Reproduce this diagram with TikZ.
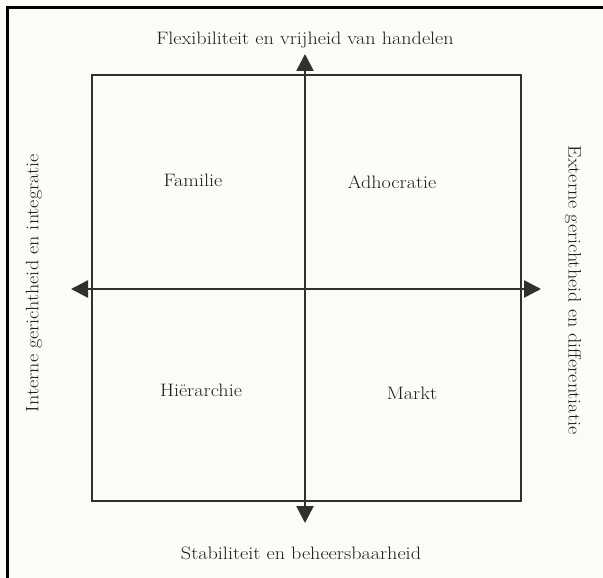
\documentclass[tikz,border=0pt]{standalone}
\usetikzlibrary{arrows.meta}
\definecolor{ink}{HTML}{303030}
\definecolor{txt}{HTML}{1E1E1E}
\definecolor{paper}{HTML}{FCFBF7}
\tikzset{
  lbl/.style={text=txt, inner sep=0pt, font=\fontsize{18}{21}\selectfont},
  axis/.style={draw=ink, line width=2.6pt, -{Triangle[length=17pt,width=17pt]}, shorten <=0pt},
  frame/.style={draw=ink, line width=1.8pt},
  outer/.style={draw=black, line width=3pt}
}
\newcommand{\widetxt}[1]{\scalebox{1.12}[1]{#1}}
\begin{document}
\begin{tikzpicture}[x=1pt,y=-1pt]
\fill[paper] (0,0) rectangle (603,578);
\useasboundingbox (0,0) rectangle (603,578);
\draw[outer] (7.5,578) -- (7.5,7.5) -- (603,7.5);
\draw[frame] (92,75) rectangle (521,501);
\coordinate (c) at (305,289);
\coordinate (top) at (305,54);
\coordinate (bot) at (305,523);
\coordinate (lft) at (71,289);
\coordinate (rgt) at (541,289);
\draw[axis] (c) -- (top);
\draw[axis] (c) -- (bot);
\draw[axis] (c) -- (lft);
\draw[axis] (c) -- (rgt);
\node[lbl] (flex) at (305,40) {\widetxt{Flexibiliteit en vrijheid van handelen}};
\node[lbl] (stab) at (301,553) {\widetxt{Stabiliteit en beheersbaarheid}};
\node[lbl, rotate=90] (intern) at (34,283) {\widetxt{Interne gerichtheid en integratie}};
\node[lbl, rotate=-90] (extern) at (573,290) {\widetxt{Externe gerichtheid en differentiatie}};
\node[lbl] (fam) at (193,180) {\widetxt{Familie}};
\node[lbl] (adh) at (392,182) {\widetxt{Adhocratie}};
\node[lbl] (hie) at (201,390) {\widetxt{Hiërarchie}};
\node[lbl] (mar) at (412,393) {\widetxt{Markt}};
\end{tikzpicture}
\end{document}
